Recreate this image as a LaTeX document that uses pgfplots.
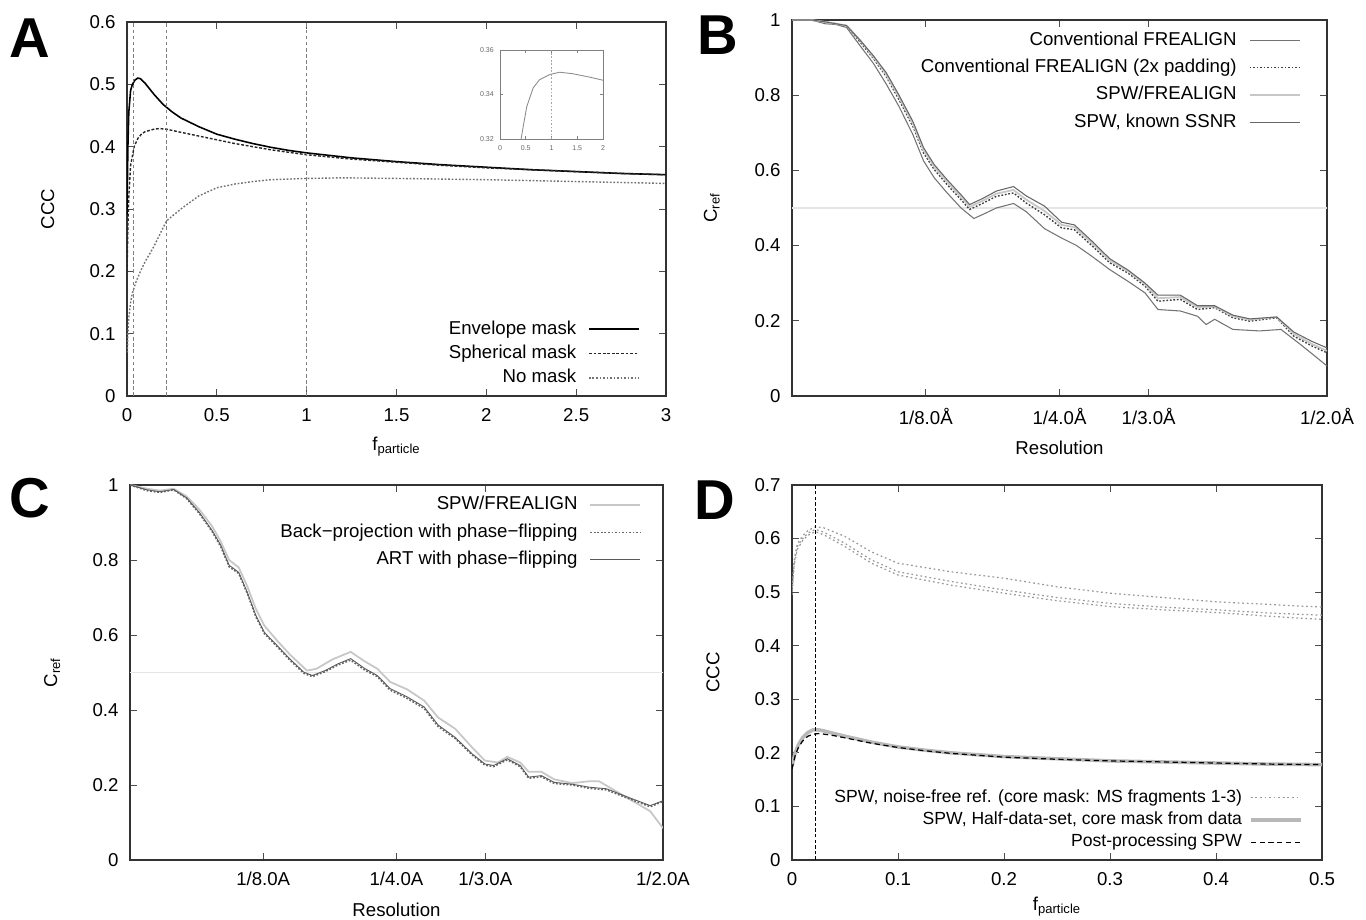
\documentclass[border=0pt]{standalone}
\usepackage{fontspec}
\setmainfont{Liberation Sans}
\usepackage{pgfplots}
\pgfplotsset{compat=1.18}

\newcommand{\fs}{\fontsize{10.6}{12}\selectfont}

\pgfplotsset{
  gp/.style={scale only axis, anchor=south west,
    axis line style={black!80, line width=0.7pt},
    tick style={black!70, line width=0.5pt},
    tick align=inside, major tick length=4pt,
    tick label style={font=\fs, /pgf/number format/assume math mode=true},
    xticklabel style={yshift=-3.5pt},
    yticklabel style={xshift=-3pt},
    label style={font=\fs},
    legend cell align=right, legend plot pos=right,
    legend image code/.code={\draw[##1] (0cm,0cm) -- (1cm,0cm);},
    legend style={draw=none, fill=none, font=\fs, inner sep=0pt, column sep=0.24cm,
      nodes={inner sep=0pt, text height=7.8pt, text depth=2.2pt}},
  },
  dotl/.style={dash pattern=on 1pt off 1pt},
}

\begin{document}
\begin{tikzpicture}
\useasboundingbox (0,0) rectangle (27.32,18.4);

% ---------------- A ----------------
\begin{axis}[gp, at={(2.54cm,10.48cm)}, width=10.78cm, height=7.48cm,
  xmin=0, xmax=3, ymin=0, ymax=0.6,
  xtick={0,0.5,...,3}, ytick={0,0.1,...,0.6},
  xlabel={f\textsubscript{particle}}, ylabel={CCC},
  xlabel style={at={(axis description cs:0.5,-0.136)}, anchor=center},
  ylabel style={at={(axis description cs:-0.147,0.5)}, anchor=center},
  legend style={at={(axis description cs:0.952,0.203)}, anchor=north east, row sep=0.137cm}]
\addplot[black, line width=0.9pt] coordinates {(0,0.29) (0.005,0.40) (0.01,0.455) (0.02,0.49) (0.03,0.50) (0.045,0.507) (0.06,0.51) (0.075,0.509) (0.1,0.502) (0.125,0.493) (0.15,0.484) (0.2,0.468) (0.25,0.456) (0.3,0.446) (0.35,0.439) (0.4,0.432) (0.5,0.42) (0.6,0.412) (0.7,0.405) (0.8,0.399) (0.9,0.394) (1,0.39) (1.25,0.382) (1.5,0.376) (1.75,0.371) (2,0.367) (2.25,0.363) (2.5,0.360) (2.75,0.357) (3,0.355)};
\addlegendentry{Envelope mask}
\addplot[black!85, line width=0.8pt, dash pattern=on 1.6pt off 1pt] coordinates {(0,0.2) (0.005,0.27) (0.01,0.32) (0.02,0.37) (0.04,0.40) (0.06,0.413) (0.08,0.42) (0.1,0.424) (0.15,0.428) (0.18,0.429) (0.22,0.428) (0.3,0.423) (0.4,0.417) (0.5,0.411) (0.6,0.405) (0.7,0.400) (0.8,0.395) (0.9,0.391) (1,0.387) (1.25,0.380) (1.5,0.375) (1.75,0.370) (2,0.366) (2.25,0.363) (2.5,0.360) (2.75,0.357) (3,0.355)};
\addlegendentry{Spherical mask}
\addplot[black!55, line width=0.8pt, dotl] coordinates {(0.002,0.07) (0.005,0.10) (0.01,0.125) (0.02,0.15) (0.03,0.165) (0.05,0.183) (0.075,0.20) (0.1,0.215) (0.15,0.24) (0.22,0.281) (0.3,0.3) (0.4,0.321) (0.5,0.334) (0.6,0.34) (0.7,0.344) (0.8,0.347) (1,0.349) (1.2,0.35) (1.5,0.349) (2,0.347) (2.5,0.344) (3,0.341)};
\addlegendentry{No mask}
\addplot[black!50, line width=0.4pt, dash pattern=on 2pt off 1.5pt, forget plot] coordinates {(0.033,0) (0.033,0.6)};
\addplot[black!50, line width=0.4pt, dash pattern=on 2pt off 1.5pt, forget plot] coordinates {(0.217,0) (0.217,0.6)};
\addplot[black!50, line width=0.4pt, dash pattern=on 2pt off 1.5pt, forget plot] coordinates {(1,0) (1,0.6)};
\end{axis}

% inset
\begin{axis}[scale only axis, anchor=south west, at={(10.0cm,15.62cm)}, width=2.06cm, height=1.78cm,
  xmin=0, xmax=2, ymin=0.32, ymax=0.36,
  xtick={0,0.5,...,2}, ytick={0.32,0.34,0.36},
  axis line style={black!50, line width=0.4pt}, tick style={black!50, line width=0.3pt},
  major tick length=1.5pt,
  tick label style={font=\fontsize{4}{5}\selectfont, text=black!60, /pgf/number format/assume math mode=true},
  yticklabel style={/pgf/number format/.cd, fixed, precision=2, fixed zerofill}]
\addplot[black!45, line width=0.5pt] coordinates {(0.41,0.32) (0.45,0.3255) (0.52,0.3346) (0.6,0.340) (0.645,0.343) (0.77,0.3467) (0.97,0.349) (1.16,0.350) (1.42,0.3493) (1.74,0.3478) (2,0.3464)};
\addplot[black!35, line width=0.3pt, dash pattern=on 1pt off 1pt] coordinates {(1,0.32) (1,0.36)};
\end{axis}

% ---------------- B ----------------
\begin{axis}[gp, at={(15.84cm,10.48cm)}, width=10.7cm, height=7.52cm,
  xmin=0, xmax=0.5, ymin=0, ymax=1,
  xtick={0.125,0.25,0.33333,0.5}, xticklabels={1/8.0Å,1/4.0Å,1/3.0Å,1/2.0Å},
  ytick={0,0.2,...,1},
  xlabel={Resolution}, ylabel={C\textsubscript{ref}},
  xlabel style={at={(axis description cs:0.5,-0.138)}, anchor=center},
  ylabel style={at={(axis description cs:-0.15,0.5)}, anchor=center},
  legend style={at={(axis description cs:0.951,0.970)}, anchor=north east, row sep=0.194cm}]
\addplot[black!10, line width=0.8pt, forget plot] coordinates {(0,0.5) (0.5,0.5)};
\addplot[black!55, line width=0.6pt] coordinates {(0,1) (0.018,1) (0.031,0.99) (0.041,0.988) (0.051,0.98) (0.064,0.93) (0.076,0.885) (0.088,0.83) (0.1,0.77) (0.113,0.695) (0.123,0.625) (0.133,0.58) (0.145,0.54) (0.158,0.50) (0.17,0.472) (0.18,0.485) (0.191,0.50) (0.207,0.512) (0.219,0.49) (0.236,0.445) (0.252,0.42) (0.266,0.40) (0.281,0.37) (0.297,0.336) (0.314,0.305) (0.33,0.274) (0.342,0.23) (0.363,0.226) (0.379,0.212) (0.387,0.19) (0.395,0.204) (0.412,0.177) (0.437,0.173) (0.457,0.177) (0.477,0.133) (0.5,0.08)};
\addlegendentry{Conventional FREALIGN}
\addplot[black!75, line width=0.8pt, dotl] coordinates {(0,1) (0.018,1) (0.031,0.995) (0.041,0.99) (0.051,0.985) (0.064,0.94) (0.076,0.898) (0.088,0.85) (0.1,0.788) (0.113,0.717) (0.123,0.646) (0.133,0.602) (0.145,0.562) (0.158,0.522) (0.166,0.496) (0.178,0.512) (0.191,0.531) (0.207,0.54) (0.219,0.513) (0.236,0.482) (0.252,0.447) (0.264,0.442) (0.281,0.398) (0.297,0.354) (0.314,0.327) (0.33,0.292) (0.342,0.252) (0.363,0.257) (0.379,0.23) (0.395,0.235) (0.412,0.208) (0.428,0.199) (0.453,0.208) (0.469,0.159) (0.486,0.133) (0.5,0.115)};
\addlegendentry{Conventional FREALIGN (2x padding)}
\addplot[black!22, line width=1pt] coordinates {(0,1) (0.018,1) (0.031,0.995) (0.041,0.99) (0.051,0.985) (0.064,0.945) (0.076,0.902) (0.088,0.855) (0.1,0.795) (0.113,0.724) (0.123,0.653) (0.133,0.609) (0.145,0.569) (0.158,0.529) (0.166,0.503) (0.178,0.519) (0.191,0.538) (0.207,0.548) (0.219,0.522) (0.236,0.492) (0.252,0.455) (0.264,0.449) (0.281,0.405) (0.297,0.36) (0.314,0.332) (0.33,0.297) (0.342,0.26) (0.363,0.263) (0.379,0.236) (0.395,0.238) (0.412,0.212) (0.428,0.203) (0.453,0.21) (0.469,0.165) (0.486,0.138) (0.5,0.12)};
\addlegendentry{SPW/FREALIGN}
\addplot[black!60, line width=0.6pt] coordinates {(0,1) (0.018,1) (0.031,0.995) (0.041,0.99) (0.051,0.985) (0.064,0.945) (0.076,0.905) (0.088,0.86) (0.1,0.80) (0.113,0.73) (0.123,0.66) (0.133,0.615) (0.145,0.575) (0.158,0.535) (0.166,0.509) (0.178,0.525) (0.191,0.545) (0.207,0.557) (0.219,0.532) (0.236,0.505) (0.252,0.462) (0.264,0.455) (0.281,0.41) (0.297,0.365) (0.314,0.335) (0.33,0.30) (0.342,0.268) (0.363,0.268) (0.379,0.24) (0.395,0.24) (0.412,0.215) (0.428,0.205) (0.453,0.21) (0.469,0.17) (0.486,0.145) (0.5,0.128)};
\addlegendentry{SPW, known SSNR}
\end{axis}

% ---------------- C ----------------
\begin{axis}[gp, at={(2.6cm,1.2cm)}, width=10.66cm, height=7.5cm,
  xmin=0, xmax=0.5, ymin=0, ymax=1,
  xtick={0.125,0.25,0.33333,0.5}, xticklabels={1/8.0A,1/4.0A,1/3.0A,1/2.0A},
  ytick={0,0.2,...,1},
  xlabel={Resolution}, ylabel={C\textsubscript{ref}},
  xlabel style={at={(axis description cs:0.5,-0.133)}, anchor=center},
  ylabel style={at={(axis description cs:-0.146,0.5)}, anchor=center},
  legend style={at={(axis description cs:0.96,0.971)}, anchor=north east, row sep=0.197cm}]
\addplot[black!10, line width=0.8pt, forget plot] coordinates {(0,0.5) (0.5,0.5)};
\addplot[black!22, line width=1pt] coordinates {(0,1) (0.016,0.99) (0.028,0.985) (0.041,0.99) (0.053,0.97) (0.065,0.935) (0.077,0.89) (0.085,0.85) (0.093,0.80) (0.102,0.78) (0.11,0.73) (0.118,0.67) (0.126,0.625) (0.138,0.585) (0.15,0.548) (0.166,0.505) (0.175,0.51) (0.19,0.535) (0.207,0.555) (0.22,0.53) (0.232,0.51) (0.244,0.475) (0.26,0.455) (0.276,0.425) (0.289,0.38) (0.305,0.35) (0.321,0.3) (0.333,0.265) (0.345,0.26) (0.354,0.275) (0.366,0.26) (0.374,0.235) (0.386,0.235) (0.398,0.215) (0.415,0.205) (0.431,0.21) (0.44,0.21) (0.455,0.185) (0.47,0.16) (0.488,0.13) (0.5,0.085)};
\addlegendentry{SPW/FREALIGN}
\addplot[black!60, line width=0.9pt, dotl] coordinates {(0,1) (0.016,0.985) (0.028,0.98) (0.041,0.987) (0.053,0.964) (0.065,0.924) (0.077,0.876) (0.085,0.836) (0.093,0.782) (0.102,0.764) (0.11,0.711) (0.118,0.649) (0.126,0.604) (0.138,0.569) (0.15,0.533) (0.163,0.498) (0.171,0.489) (0.183,0.502) (0.195,0.52) (0.207,0.533) (0.22,0.507) (0.232,0.489) (0.244,0.453) (0.26,0.431) (0.276,0.404) (0.289,0.356) (0.305,0.324) (0.321,0.28) (0.333,0.253) (0.341,0.249) (0.354,0.267) (0.366,0.249) (0.374,0.218) (0.386,0.222) (0.398,0.204) (0.415,0.2) (0.431,0.191) (0.447,0.187) (0.463,0.169) (0.488,0.142) (0.5,0.156)};
\addlegendentry{Back−projection with phase−flipping}
\addplot[black!65, line width=0.5pt] coordinates {(0,1) (0.016,0.987) (0.028,0.982) (0.041,0.988) (0.053,0.966) (0.065,0.927) (0.077,0.879) (0.085,0.84) (0.093,0.786) (0.102,0.767) (0.11,0.714) (0.118,0.653) (0.126,0.607) (0.138,0.572) (0.15,0.536) (0.163,0.501) (0.171,0.492) (0.183,0.505) (0.195,0.523) (0.207,0.537) (0.22,0.511) (0.232,0.492) (0.244,0.457) (0.26,0.435) (0.276,0.408) (0.289,0.36) (0.305,0.327) (0.321,0.283) (0.333,0.256) (0.341,0.252) (0.354,0.27) (0.366,0.252) (0.374,0.221) (0.386,0.225) (0.398,0.207) (0.415,0.202) (0.431,0.194) (0.447,0.19) (0.463,0.172) (0.488,0.145) (0.5,0.158)};
\addlegendentry{ART with phase−flipping}
\end{axis}

% ---------------- D ----------------
\begin{axis}[gp, at={(15.84cm,1.2cm)}, width=10.6cm, height=7.5cm,
  xmin=0, xmax=0.5, ymin=0, ymax=0.7,
  xtick={0,0.1,...,0.5}, ytick={0,0.1,...,0.7},
  xlabel={f\textsubscript{particle}}, ylabel={CCC},
  xlabel style={at={(axis description cs:0.5,-0.125)}, anchor=center},
  ylabel style={at={(axis description cs:-0.149,0.5)}, anchor=center},
  legend style={at={(axis description cs:0.964,0.189)}, anchor=north east, row sep=0.12cm,
    column sep=0.14cm, font=\fontsize{10}{11.5}\selectfont,
    nodes={inner sep=0pt, text height=7.3pt, text depth=2pt}}]
\addplot[black!40, line width=0.7pt, dash pattern=on 1pt off 1.6pt] coordinates {(0,0.50) (0.002,0.56) (0.005,0.59) (0.01,0.605) (0.015,0.615) (0.022,0.622) (0.03,0.62) (0.05,0.604) (0.075,0.575) (0.1,0.554) (0.15,0.538) (0.2,0.526) (0.25,0.51) (0.3,0.498) (0.35,0.49) (0.4,0.482) (0.45,0.477) (0.5,0.472)};
\addlegendentry{SPW, noise-free ref. (core mask: MS fragments 1-3)}
\addplot[black!40, line width=0.7pt, dash pattern=on 1pt off 1.6pt, forget plot] coordinates {(0,0.50) (0.002,0.555) (0.005,0.585) (0.01,0.60) (0.015,0.61) (0.022,0.617) (0.03,0.612) (0.05,0.591) (0.075,0.56) (0.1,0.538) (0.15,0.52) (0.2,0.504) (0.25,0.49) (0.3,0.479) (0.35,0.472) (0.4,0.467) (0.45,0.461) (0.5,0.457)};
\addplot[black!40, line width=0.7pt, dash pattern=on 1pt off 1.6pt, forget plot] coordinates {(0,0.495) (0.002,0.55) (0.005,0.58) (0.01,0.596) (0.015,0.606) (0.022,0.613) (0.03,0.607) (0.05,0.585) (0.075,0.554) (0.1,0.532) (0.15,0.513) (0.2,0.498) (0.25,0.484) (0.3,0.473) (0.35,0.467) (0.4,0.462) (0.45,0.455) (0.5,0.449)};
\addplot[black!28, line width=2pt] coordinates {(0,0.175) (0.003,0.2) (0.006,0.215) (0.01,0.228) (0.015,0.238) (0.02,0.243) (0.025,0.243) (0.03,0.241) (0.04,0.236) (0.05,0.231) (0.075,0.22) (0.1,0.211) (0.125,0.205) (0.15,0.200) (0.2,0.193) (0.25,0.189) (0.3,0.185) (0.35,0.183) (0.4,0.181) (0.45,0.179) (0.5,0.178)};
\addlegendentry{SPW, Half-data-set, core mask from data}
\addplot[black, line width=0.7pt, dash pattern=on 3pt off 2pt] coordinates {(0,0.17) (0.003,0.195) (0.006,0.21) (0.01,0.222) (0.015,0.231) (0.02,0.235) (0.025,0.236) (0.03,0.235) (0.04,0.232) (0.05,0.228) (0.075,0.218) (0.1,0.21) (0.125,0.204) (0.15,0.199) (0.2,0.192) (0.25,0.188) (0.3,0.185) (0.35,0.183) (0.4,0.181) (0.45,0.179) (0.5,0.178)};
\addlegendentry{Post-processing SPW}
\addplot[black, line width=0.7pt, dash pattern=on 2pt off 1.2pt, forget plot] coordinates {(0.0224,0) (0.0224,0.7)};
\end{axis}

\node[font=\bfseries\fontsize{32}{32}\selectfont] at (0.6,17.64) {A};
\node[font=\bfseries\fontsize{32}{32}\selectfont] at (14.36,17.7) {B};
\node[font=\bfseries\fontsize{32}{32}\selectfont] at (0.6,8.44) {C};
\node[font=\bfseries\fontsize{32}{32}\selectfont] at (14.3,8.4) {D};
\end{tikzpicture}
\end{document}
